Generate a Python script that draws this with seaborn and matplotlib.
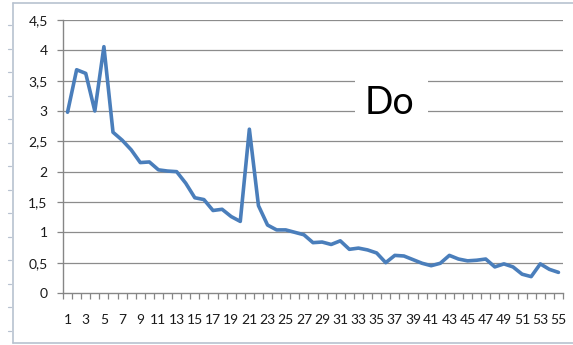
import matplotlib
matplotlib.use("Agg")
import matplotlib.pyplot as plt
from matplotlib.lines import Line2D
from matplotlib.patches import Rectangle
from matplotlib.ticker import FixedLocator, FuncFormatter
import numpy as np
import pandas as pd
import seaborn as sns

# Series values, one per category 1..55
categories = list(range(1, 56))
values = [
    2.98, 3.68, 3.62, 3.00, 4.06, 2.65, 2.52, 2.36, 2.15, 2.16,
    2.03, 2.01, 2.00, 1.81, 1.57, 1.54, 1.36, 1.38, 1.26, 1.18,
    2.70, 1.44, 1.12, 1.04, 1.04, 1.00, 0.96, 0.83, 0.84, 0.80,
    0.86, 0.72, 0.74, 0.71, 0.66, 0.50, 0.62, 0.61, 0.55, 0.49,
    0.45, 0.49, 0.62, 0.56, 0.53, 0.54, 0.56, 0.43, 0.48, 0.43,
    0.31, 0.27, 0.48, 0.39, 0.34,
]
y_ticks = [0, 0.5, 1, 1.5, 2, 2.5, 3, 3.5, 4, 4.5]
x_tick_labels = [str(c) for c in categories if c % 2 == 1]
title = "Do"

df = pd.DataFrame({"cat": categories, "val": values})

sns.set_theme(style="white")
plt.rcParams["font.family"] = ["Lato", "DejaVu Sans"]

W, H = 573, 345
fig = plt.figure(figsize=(W / 100, H / 100), dpi=100)
ax = fig.add_axes([63 / W, 1 - 293 / H, 500 / W, 273 / H])

grid_c = "#8c8c8c"
axis_c = "#868686"

for yv in y_ticks[1:]:
    ax.axhline(yv, color=grid_c, lw=0.9, zorder=1)

sns.lineplot(data=df, x="cat", y="val", ax=ax, color="#4a7ebb",
             linewidth=2.6, zorder=3)

ax.set_xlim(0.5, 55.5)
ax.set_ylim(0, 4.5)
ax.set_xlabel("")
ax.set_ylabel("")

for s in ["top", "right"]:
    ax.spines[s].set_visible(False)
for s in ["left", "bottom"]:
    ax.spines[s].set_color(axis_c)
    ax.spines[s].set_linewidth(1.0)

ax.yaxis.set_major_locator(FixedLocator(y_ticks))
ax.yaxis.set_major_formatter(FuncFormatter(lambda v, p: f"{v:g}".replace(".", ",")))
ax.tick_params(axis="y", which="major", direction="out", length=4, width=0.9,
               color=axis_c, pad=7, labelsize=10, labelcolor="#1a1a1a", left=True)

odd = [c for c in categories if c % 2 == 1]
ax.xaxis.set_major_locator(FixedLocator(odd))
ax.set_xticklabels(x_tick_labels)
ax.xaxis.set_minor_locator(FixedLocator(np.arange(0.5, 56, 1.0)))
ax.tick_params(axis="x", which="major", length=0, pad=15, labelsize=10,
               labelcolor="#1a1a1a", bottom=True)
ax.tick_params(axis="x", which="minor", direction="out", length=4, width=0.9,
               color=axis_c, bottom=True)

# Chart title on a white block that interrupts the gridlines
fig.add_artist(Rectangle((355 / W, 1 - 118 / H), 73 / W, 43 / H,
                         transform=fig.transFigure, facecolor="white",
                         edgecolor="none", zorder=4))
fig.text(389 / W, 1 - 103 / H, title, ha="center", va="center",
         fontsize=27, color="#000000", fontfamily=["Lato", "DejaVu Sans"],
         zorder=5)

# Outer chart frame with small marks along its left edge
frame_c = "#b8c2d0"
fig.add_artist(Line2D([13 / W, 13 / W], [1 - 3 / H, 1 - 343 / H],
                      transform=fig.transFigure, color=frame_c, lw=1.2))
fig.add_artist(Line2D([13 / W, 1.0], [1 - 3 / H, 1 - 3 / H],
                      transform=fig.transFigure, color=frame_c, lw=1.2))
fig.add_artist(Line2D([13 / W, 1.0], [1 - 343 / H, 1 - 343 / H],
                      transform=fig.transFigure, color=frame_c, lw=1.2))
for yy in np.arange(25, 340, 23.5):
    fig.add_artist(Line2D([8 / W, 11 / W], [1 - yy / H, 1 - yy / H],
                          transform=fig.transFigure, color=frame_c, lw=0.9))

fig.savefig("out.png", dpi=100)
